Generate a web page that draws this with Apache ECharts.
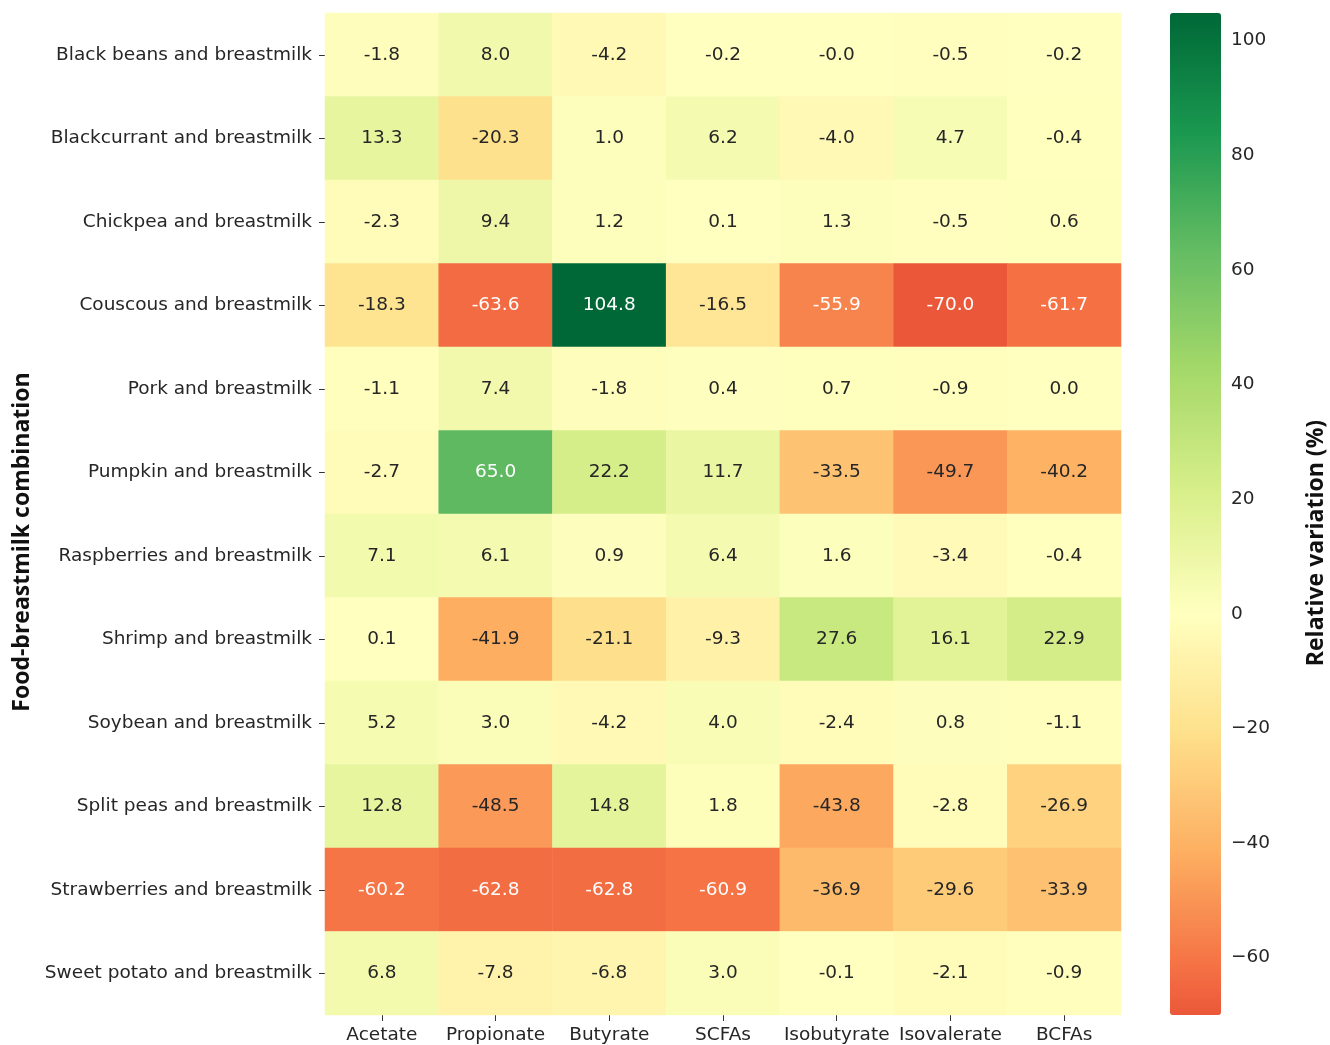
<!DOCTYPE html>
<html>
<head>
<meta charset="utf-8">
<script src="https://cdn.jsdelivr.net/npm/echarts@6/dist/echarts.min.js"></script>
<style>
  html, body { margin: 0; padding: 0; background: #fff; }
  #chart { width: 1330px; height: 1045px; }
</style>
</head>
<body>
<div id="chart"></div>
<script>
// ---- data ----
const metabolites = ['Acetate', 'Propionate', 'Butyrate', 'SCFAs', 'Isobutyrate', 'Isovalerate', 'BCFAs'];
const combos = [
  'Black beans and breastmilk',
  'Blackcurrant and breastmilk',
  'Chickpea and breastmilk',
  'Couscous and breastmilk',
  'Pork and breastmilk',
  'Pumpkin and breastmilk',
  'Raspberries and breastmilk',
  'Shrimp and breastmilk',
  'Soybean and breastmilk',
  'Split peas and breastmilk',
  'Strawberries and breastmilk',
  'Sweet potato and breastmilk'
];
// one row per combination, columns follow metabolites
const blackBeans   = [-1.8, 8.0, -4.2, -0.2, -0.02, -0.5, -0.2];
const blackcurrant = [13.3, -20.3, 1.0, 6.2, -4.0, 4.7, -0.4];
const chickpea     = [-2.3, 9.4, 1.2, 0.1, 1.3, -0.5, 0.6];
const couscous     = [-18.3, -63.6, 104.8, -16.5, -55.9, -70.0, -61.7];
const pork         = [-1.1, 7.4, -1.8, 0.4, 0.7, -0.9, 0.0];
const pumpkin      = [-2.7, 65.0, 22.2, 11.7, -33.5, -49.7, -40.2];
const raspberries  = [7.1, 6.1, 0.9, 6.4, 1.6, -3.4, -0.4];
const shrimp       = [0.1, -41.9, -21.1, -9.3, 27.6, 16.1, 22.9];
const soybean      = [5.2, 3.0, -4.2, 4.0, -2.4, 0.8, -1.1];
const splitPeas    = [12.8, -48.5, 14.8, 1.8, -43.8, -2.8, -26.9];
const strawberries = [-60.2, -62.8, -62.8, -60.9, -36.9, -29.6, -33.9];
const sweetPotato  = [6.8, -7.8, -6.8, 3.0, -0.1, -2.1, -0.9];
const rows = [blackBeans, blackcurrant, chickpea, couscous, pork, pumpkin,
  raspberries, shrimp, soybean, splitPeas, strawberries, sweetPotato];
const colorbarTicks = [-60, -40, -20, 0, 20, 40, 60, 80, 100];

const vMin = -70.0, vMax = 104.8;

// RdYlGn, recentred on 0 like seaborn's center=0
const rdylgn = ['#a50026', '#d73027', '#f46d43', '#fdae61', '#fee08b', '#ffffbf',
  '#d9ef8b', '#a6d96a', '#66bd63', '#1a9850', '#006837'];
function hex2rgb(h) { return [1, 3, 5].map(i => parseInt(h.substr(i, 2), 16)); }
function cmap(t) {
  t = Math.max(0, Math.min(1, t));
  const p = t * (rdylgn.length - 1);
  const i = Math.min(Math.floor(p), rdylgn.length - 2);
  const f = p - i;
  const a = hex2rgb(rdylgn[i]), b = hex2rgb(rdylgn[i + 1]);
  return 'rgb(' + a.map((c, k) => Math.round(c + (b[k] - c) * f)).join(',') + ')';
}
const half = Math.max(vMax, -vMin);
const stops = [];
for (let k = 0; k <= 60; k++) {
  const v = vMin + (vMax - vMin) * k / 60;
  stops.push(cmap((v + half) / (2 * half)));
}

// heatmap cells
const cells = [];
rows.forEach((row, y) => {
  row.forEach((v, x) => {
    const dark = v <= -52 || v >= 50;
    cells.push({ value: [x, y, v], label: { color: dark ? '#ffffff' : '#262626' } });
  });
});

const font = 'DejaVu Sans';
const fs = 18.5;
const chart = echarts.init(document.getElementById('chart'));
chart.setOption({
  animation: false,
  grid: [
    { left: 325, right: 209, top: 13, bottom: 30 },
    { left: 1170, width: 51, top: 13, height: 1002 }
  ],
  xAxis: [
    {
      type: 'category', data: metabolites, gridIndex: 0, position: 'bottom',
      axisLine: { show: false },
      axisTick: { show: true, interval: 0, alignWithLabel: true, length: 6, lineStyle: { color: '#333' } },
      axisLabel: { interval: 0, fontFamily: font, fontSize: fs, color: '#262626', margin: 11 },
      splitLine: { show: false }
    },
    { type: 'value', gridIndex: 1, show: false, min: 0, max: 1 }
  ],
  yAxis: [
    {
      type: 'category', data: combos, gridIndex: 0, inverse: true,
      axisLine: { show: false },
      axisTick: { show: true, interval: 0, alignWithLabel: true, length: 6, lineStyle: { color: '#333' } },
      axisLabel: { interval: 0, fontFamily: font, fontSize: fs, color: '#262626', margin: 13 },
      splitLine: { show: false }
    },
    {
      type: 'value', gridIndex: 1, position: 'right', min: vMin, max: vMax,
      axisLine: { show: false },
      splitLine: { show: false },
      axisTick: { show: true, length: 6, customValues: colorbarTicks, lineStyle: { color: '#333' } },
      axisLabel: {
        fontFamily: font, fontSize: fs, color: '#262626', margin: 10,
        customValues: colorbarTicks,
        formatter: v => String(v).replace('-', '\u2212')
      }
    }
  ],
  visualMap: {
    type: 'continuous', min: vMin, max: vMax, calculable: false,
    seriesIndex: 0, dimension: 2,
    left: 1170, top: 13, padding: 0,
    itemWidth: 51, itemHeight: 1002,
    text: null, showLabel: false, hoverLink: false,
    inRange: { color: stops }
  },
  series: [{
    type: 'heatmap',
    xAxisIndex: 0, yAxisIndex: 0,
    data: cells,
    label: {
      show: true, fontFamily: font, fontSize: fs,
      formatter: p => p.value[2].toFixed(1)
    },
    itemStyle: { borderWidth: 0 },
    emphasis: { disabled: true }
  }],
  graphic: [
    {
      type: 'text', x: 22, y: 542, rotation: Math.PI / 2,
      style: {
        text: 'Food-breastmilk combination', fontFamily: 'Open Sans', fontWeight: 'bold',
        fontSize: 23, fill: '#111', align: 'center', verticalAlign: 'middle'
      }
    },
    {
      type: 'text', x: 1316, y: 543, rotation: Math.PI / 2,
      style: {
        text: 'Relative variation (%)', fontFamily: 'Open Sans', fontWeight: 'bold',
        fontSize: 23, fill: '#111', align: 'center', verticalAlign: 'middle'
      }
    }
  ]
});
</script>
</body>
</html>
